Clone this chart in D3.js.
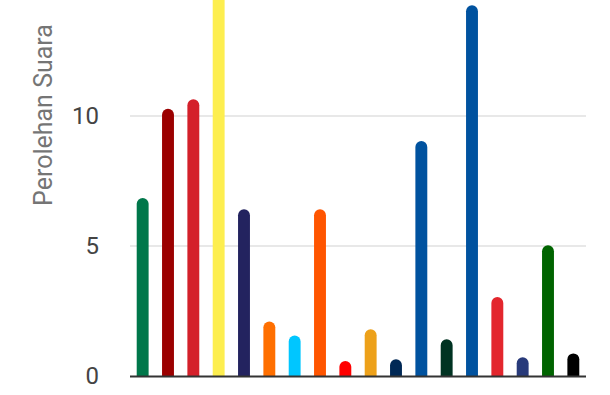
<!DOCTYPE html>
<html>
<head>
<meta charset="utf-8">
<script src="https://cdn.jsdelivr.net/npm/d3@7"></script>
<style>
  body { margin: 0; background: #fff; }
  svg { display: block; font-family: Roboto, sans-serif; }
</style>
</head>
<body>
<div id="chart"></div>
<script>
// party order, votes and party colours
var parties = ["p1","p2","p3","p4","p5","p6","p7","p8","p9","p10","p11","p12","p13","p14","p15","p16","p17","p18"];
var votes = [6.85, 10.28, 10.64, 17, 6.41, 2.1, 1.56, 6.41, 0.58, 1.8, 0.64, 9.04, 1.41, 14.26, 3.04, 0.72, 5.03, 0.87];
var colors = ["#00774a","#9b0000","#d4202a","#fdee4f","#23235f","#ff6f00","#00c6ff","#ff5500","#ff0000",
              "#eda11a","#002855","#00529f","#003322","#00529f","#e3262d","#283a7a","#006400","#000000"];
var yTicks = [0, 5, 10];

var width = 610, height = 395;
var margin = {top: 0, right: 24, bottom: 19, left: 130};

var svg = d3.select("#chart").append("svg")
    .attr("width", width)
    .attr("height", height);

var x = d3.scaleBand()
    .domain(parties)
    .range([margin.left, width - margin.right])
    .paddingInner(0.53)
    .paddingOuter(0.265);

var y = d3.scaleLinear()
    .domain([0, 5])
    .range([376, 246]);

// gridlines
svg.append("g")
    .selectAll("line")
    .data(yTicks.filter(d => d > 0))
    .enter().append("line")
    .attr("x1", margin.left)
    .attr("x2", width - margin.right)
    .attr("y1", d => y(d))
    .attr("y2", d => y(d))
    .attr("stroke", "#e0e0e0")
    .attr("stroke-width", 1.5);

// tick labels
var yAxis = svg.append("g")
    .attr("transform", "translate(" + (margin.left - 31) + ",0)")
    .call(d3.axisLeft(y).tickValues(yTicks).tickFormat(d3.format("d")).tickSize(0).tickPadding(0));
yAxis.select(".domain").remove();
yAxis.selectAll("text")
    .attr("fill", "#444")
    .style("font-size", "24px")
    .style("font-family", "Roboto, sans-serif");

// axis title
svg.append("text")
    .attr("transform", "translate(52,115) rotate(-90)")
    .attr("text-anchor", "middle")
    .attr("fill", "#757575")
    .style("font-size", "25px")
    .text("Perolehan Suara");

// bars with rounded tops
var r = x.bandwidth() / 2;
function barPath(d, i) {
    var x0 = x(parties[i]), w = x.bandwidth();
    var top = y(d), base = y(0);
    return "M" + x0 + "," + base +
        "V" + (top + r) +
        "A" + r + "," + r + " 0 0 1 " + (x0 + w) + "," + (top + r) +
        "V" + base + "Z";
}

svg.append("g")
    .selectAll("path")
    .data(votes)
    .enter().append("path")
    .attr("d", barPath)
    .attr("fill", (d, i) => colors[i]);

// baseline
svg.append("line")
    .attr("x1", margin.left)
    .attr("x2", width - margin.right)
    .attr("y1", y(0) + 0.5)
    .attr("y2", y(0) + 0.5)
    .attr("stroke", "#333")
    .attr("stroke-width", 2);
</script>
</body>
</html>
